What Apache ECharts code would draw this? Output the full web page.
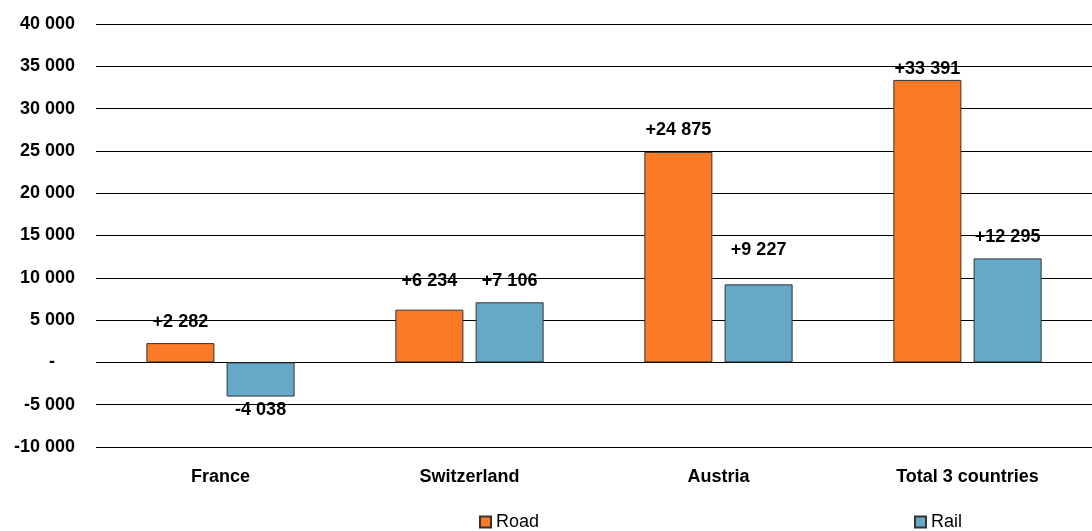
<!DOCTYPE html>
<html>
<head>
<meta charset="utf-8">
<script src="https://cdn.jsdelivr.net/npm/echarts@6/dist/echarts.min.js"></script>
<style>html,body{margin:0;padding:0;background:#fff}#c{width:1092px;height:531px}</style>
</head>
<body>
<div id="c"></div>
<script>
const categories = ['France', 'Switzerland', 'Austria', 'Total 3 countries'];
const road = [2282, 6234, 24875, 33391];
const rail = [-4038, 7106, 9227, 12295];
const seriesNames = ['Road', 'Rail'];

function fmt(v) {
  const s = String(Math.abs(v)).replace(/\B(?=(\d{3})+(?!\d))/g, ' ');
  return (v < 0 ? '-' : '') + s;
}
function fmtLabel(v) { return (v > 0 ? '+' : '') + fmt(v); }

// label vertical offsets (px) to mimic manual placement in the source
const roadLabelDist = [12, 20, 13, 2];
const railLabelDist = [4, 12, 25, 12];

function buildData(vals, dists) {
  return vals.map((v, i) => ({
    value: v,
    label: { position: v >= 0 ? 'top' : 'bottom', distance: dists[i] }
  }));
}

const FONT = 'Liberation Sans, Arial, sans-serif';
const chart = echarts.init(document.getElementById('c'));
const labelStyle = {
  show: true, color: '#000', fontFamily: FONT,
  fontWeight: 'bold', fontSize: 18, formatter: p => fmtLabel(p.value)
};
const legendText = { fontFamily: FONT, fontSize: 18, color: '#000' };
chart.setOption({
  animation: false,
  grid: { left: 96, right: -6, top: 24, bottom: 84 },
  legend: [
    { data: [seriesNames[0]], left: 479, top: 513, padding: 0, icon: 'rect', itemWidth: 11, itemHeight: 11,
      textStyle: legendText, itemGap: 5 },
    { data: [seriesNames[1]], left: 914, top: 513, padding: 0, icon: 'rect', itemWidth: 11, itemHeight: 11,
      textStyle: legendText, itemGap: 5 }
  ],
  xAxis: {
    type: 'category', data: categories,
    axisLine: { show: false, onZero: false }, axisTick: { show: false },
    axisLabel: { color: '#000', fontWeight: 'bold', fontSize: 18, margin: 21, fontFamily: FONT }
  },
  yAxis: {
    type: 'value', min: -10000, max: 40000, interval: 5000,
    axisLine: { show: false }, axisTick: { show: false },
    splitLine: { lineStyle: { color: '#000', width: 1 } },
    axisLabel: { color: '#000', fontWeight: 'bold', fontSize: 18, margin: 21, fontFamily: FONT,
      formatter: v => v === 0 ? '-    ' : fmt(v) }
  },
  series: [
    { name: seriesNames[0], type: 'bar', data: buildData(road, roadLabelDist),
      barWidth: 68, barGap: '18%',
      itemStyle: { color: '#FA7A28', borderColor: '#333', borderWidth: 1 },
      label: labelStyle },
    { name: seriesNames[1], type: 'bar', data: buildData(rail, railLabelDist),
      barWidth: 68,
      itemStyle: { color: '#66A8C8', borderColor: '#333', borderWidth: 1 },
      label: labelStyle }
  ]
});
</script>
</body>
</html>
